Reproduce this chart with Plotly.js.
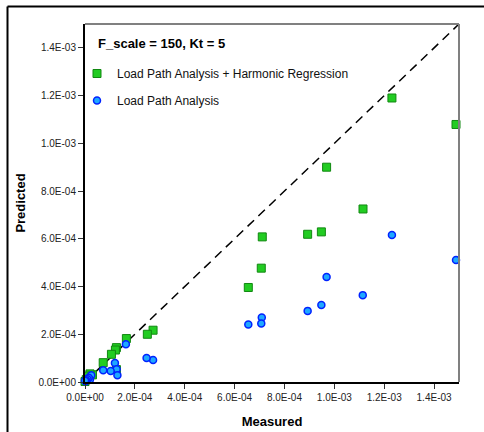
<!DOCTYPE html>
<html>
<head>
<meta charset="utf-8">
<script src="https://cdn.plot.ly/plotly-3.0.1.min.js"></script>
<style>
html,body{margin:0;padding:0;background:#fff;}
#chart{width:484px;height:432px;}
</style>
</head>
<body>
<div id="chart"></div>
<script>
// Values in units of 1e-4 (scaled below)
const hrMeasured  = [14.88, 12.31, 11.15, 9.69, 9.48, 8.93, 7.11, 7.07, 6.55, 2.73, 2.50, 1.66, 1.26, 1.22, 1.06, 0.73, 1.26, 0.30, 0.20, 0.12, 0.05, 0.00];
const hrPredicted = [10.79, 11.90, 7.25, 9.00, 6.29, 6.19, 6.08, 4.77, 3.96, 2.17, 2.00, 1.82, 1.44, 1.34, 1.16, 0.81, 0.52, 0.30, 0.34, 0.25, 0.10, 0.02];

const lpaMeasured  = [14.88, 12.31, 11.14, 9.69, 9.48, 8.93, 7.09, 7.07, 6.55, 2.73, 2.47, 1.64, 1.20, 1.27, 1.03, 0.73, 1.30, 0.25, 0.20, 0.15, 0.10, 0.05, 0.02, 0.00];
const lpaPredicted = [5.11, 6.16, 3.64, 4.40, 3.23, 2.98, 2.70, 2.45, 2.41, 0.92, 1.01, 1.58, 0.80, 0.53, 0.46, 0.49, 0.28, 0.28, 0.10, 0.18, 0.12, 0.06, 0.03, 0.05];

const refLine = [0, 15];
const tickVals = [0, 2, 4, 6, 8, 10, 12, 14];
const tickText = ["0.0E+00","2.0E-04","4.0E-04","6.0E-04","8.0E-04","1.0E-03","1.2E-03","1.4E-03"];
const scale = 1e-4;
const s = a => a.map(v => v * scale);

const traces = [
  {
    x: s(refLine), y: s(refLine), mode: 'lines', showlegend: false, hoverinfo: 'skip',
    line: {color: '#000', width: 1.5, dash: '9px,6px'}
  },
  {
    x: s(hrMeasured), y: s(hrPredicted), mode: 'markers', type: 'scatter',
    name: 'Load Path Analysis + Harmonic Regression', legendgroup: 'a',
    marker: {symbol: 'square', size: 8, color: '#22cc22', line: {color: '#118811', width: 1}},
    cliponaxis: false
  },
  {
    x: s(lpaMeasured), y: s(lpaPredicted), mode: 'markers', type: 'scatter',
    name: 'Load Path Analysis', legendgroup: 'b',
    marker: {symbol: 'circle', size: 7, color: '#1ea8ff', line: {color: '#0022ff', width: 1.5}},
    cliponaxis: false
  }
];

const W = 374, H = 358, L = 85, T = 24;
const px = x => (x - L) / W;
const py = y => (T + H - y) / H;

const layout = {
  width: 484, height: 432,
  margin: {l: L, r: 484 - L - W, t: T, b: 432 - T - H, pad: 0},
  paper_bgcolor: '#fff', plot_bgcolor: '#fff',
  font: {family: '"Liberation Sans", Arial, sans-serif', color: '#222'},
  xaxis: {
    range: [0, 1.5e-3], tickvals: s(tickVals), ticktext: tickText,
    showgrid: false, zeroline: false, showline: true, linecolor: '#000', linewidth: 2,
    ticks: 'outside', ticklen: 5, tickcolor: '#333', tickwidth: 1,
    tickfont: {size: 10, color: '#222'},
    title: {text: '<b>Measured</b>', font: {size: 13, color: '#000'}, standoff: 15}
  },
  yaxis: {
    range: [0, 1.5e-3], tickvals: s(tickVals), ticktext: tickText,
    showgrid: false, zeroline: false, showline: true, linecolor: '#000', linewidth: 2,
    ticks: 'outside', ticklen: 5, tickcolor: '#333', tickwidth: 1,
    tickfont: {size: 10, color: '#222'},
    title: {text: '<b>Predicted</b>', font: {size: 13, color: '#000'}, standoff: 10}
  },
  showlegend: true,
  legend: {
    x: px(77), y: py(59), xanchor: 'left', yanchor: 'top',
    bgcolor: 'rgba(0,0,0,0)', borderwidth: 0,
    font: {size: 12, color: '#111'}, traceorder: 'grouped', tracegroupgap: 8
  },
  annotations: [
    {text: '<b>F_scale = 150, Kt = 5</b>', xref: 'paper', yref: 'paper',
     x: px(96), y: py(43), xanchor: 'left', yanchor: 'middle', showarrow: false,
     font: {size: 13, color: '#000'}}
  ],
  shapes: [
    // plot frame top and right (gray)
    {type: 'line', xref: 'paper', yref: 'paper', x0: 0, x1: 1, y0: 1, y1: 1, line: {color: '#808080', width: 2}},
    {type: 'line', xref: 'paper', yref: 'paper', x0: 1, x1: 1, y0: 0, y1: 1, line: {color: '#808080', width: 2}},
    // outer figure frame (left and top visible)
    {type: 'line', xref: 'paper', yref: 'paper', x0: px(7.5), x1: px(490), y0: py(6.5), y1: py(6.5), line: {color: '#000', width: 2}},
    {type: 'line', xref: 'paper', yref: 'paper', x0: px(7.5), x1: px(7.5), y0: py(6.5), y1: py(440), line: {color: '#000', width: 2}}
  ]
};

Plotly.newPlot('chart', traces, layout, {displayModeBar: false, staticPlot: true});
</script>
</body>
</html>
